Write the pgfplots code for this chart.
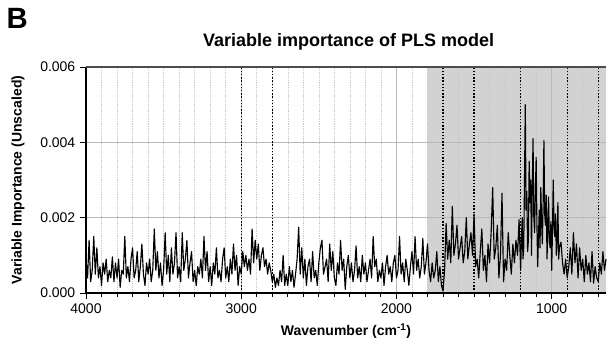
\documentclass[border=0pt]{standalone}
\usepackage{pgfplots}
\pgfplotsset{compat=1.18}
\usepackage{fontspec}
\setmainfont{Liberation Sans}
\pgfplotstableread{
x y
4000 9
3990 4
3980 14
3970 3
3960 6
3950 15
3940 5
3930 12
3920 4
3910 7
3900 2
3890 8
3880 5
3870 9
3860 3
3850 6
3840 4
3830 9.6
3820 3
3810 8
3800 4
3790 9
3780 1.5
3770 6
3760 5
3750 15
3740 4
3730 7
3720 3
3710 9
3700 12
3690 4
3680 6
3670 11
3660 3
3650 7
3640 13
3630 5
3620 2
3610 8
3600 5
3590 9
3580 3
3570 6
3560 17
3550 6
3540 11
3530 4
3520 8
3510 2
3500 6
3490 16
3480 5
3470 10
3460 3
3450 12
3440 5
3430 8
3420 16
3410 4
3400 7
3390 3
3380 16
3370 6
3360 9
3350 14
3340 4
3330 8
3320 11
3310 3
3300 6
3290 2
3280 7
3270 5
3260 9
3250 4
3240 15
3230 6
3220 11
3210 3
3200 7
3190 2
3180 8
3170 5
3160 12
3150 4
3140 6
3130 3
3120 9
3110 12
3100 4
3090 7
3080 3
3070 9
3060 5
3050 13
3040 6
3030 10
3020 2
3010 7
3000 5
2990 11
2980 7
2970 10
2960 6
2950 9
2940 5
2930 17
2920 8
2910 14
2900 9
2890 13
2880 6
2870 10
2860 12
2850 7
2840 9
2830 5
2820 8
2810 6
2800 3
2790 5
2780 1.5
2770 4
2760 2
2750 6
2740 3
2730 10
2720 2
2710 5
2700 2
2690 7
2680 3
2670 6
2660 1.5
2650 5
2640 9
2630 17.5
2620 5
2610 12
2600 4
2590 9
2580 2
2570 7
2560 9
2550 3
2540 11
2530 4
2520 6
2510 2
2500 8
2490 12
2480 14
2470 5
2460 7
2450 9
2440 3
2430 13
2420 6
2410 11
2400 4
2390 2
2380 8
2370 5
2360 14
2350 6
2340 9
2330 1
2320 7
2310 10
2300 4
2290 8
2280 3
2270 6
2260 12.5
2250 4
2240 7
2230 3
2220 10
2210 5
2200 8
2190 3
2180 6
2170 9
2160 4
2150 15
2140 7
2130 9
2120 3
2110 6
2100 4
2090 8
2080 2
2070 7
2060 10
2050 5
2040 7
2030 3
2020 8
2010 10
2000 4
1990 6
1980 15
1970 5
1960 8
1950 3
1940 9
1930 6
1920 2
1910 7
1900 11
1890 5
1880 15
1870 6
1860 9
1850 4
1840 7
1830 14.5
1820 5
1810 8
1800 13
1790 6
1780 3
1770 8
1760 4
1750 6
1740 11
1730 3
1720 7
1710 2
1700 0.5
1690 6
1680 18.5
1670 9
1660 14
1650 8
1640 23
1630 10
1620 13
1610 18
1600 9
1590 12
1580 15
1570 8
1560 11
1550 20
1540 9
1530 13
1520 16
1510 10
1500 21
1490 7
1480 9
1470 4
1460 11
1450 17
1440 6
1430 10
1420 3
1410 13
1400 8
1390 16
1380 28
1370 9
1360 12
1350 18
1340 4
1330 10
1320 26.5
1310 3
1300 9
1290 6
1280 16
1270 10
1260 5
1250 13
1240 8
1230 14
1220 10
1210 19.5
1200 6
1195 14
1190 20
1185 9
1180 12
1175 30
1170 50
1165 22
1160 27
1155 11
1150 14
1145 35
1140 24
1135 30
1130 10
1125 28
1120 41
1115 20
1110 16
1105 27
1100 36
1095 18
1090 7
1085 15
1080 22
1075 12
1070 28
1065 19
1060 13
1055 24
1050 40.5
1045 21
1040 18
1035 26
1030 9
1025 17
1020 25.5
1015 14
1010 12
1005 19
1000 6
995 16
990 30
985 18
980 15
975 21
970 10
965 14
960 24
955 9
950 12
940 13.5
930 8
920 5
910 9
900 4
890 7
880 12
870 5
860 16
850 8
840 13
830 4
820 12
810 6
800 9
790 3
780 10
770 5
760 8
750 3
740 11
730 2.6
720 7
710 4
700 3
690 8
680 5
670 11
660 6
650 9
}\vipdata
\begin{document}
\begin{tikzpicture}
\begin{axis}[
  set layers,
  clip=false,
  scale only axis, width=390pt, height=169.5pt,
  x dir=reverse, xmin=650, xmax=4000, ymin=0, ymax=60,
  xtick={1000,2000,3000,4000},
  minor xtick={700,800,...,3900},
  ytick={0,20,40,60}, yticklabels={0.000,0.002,0.004,0.006},
  tick align=outside, major tick length=4.5pt, minor tick length=3pt,
  tick style={black, line width=0.7pt},
  grid=both,
  major grid style={gray!55, line width=0.7pt},
  minor grid style={gray!45, densely dotted, line width=0.4pt},
  axis x line*=bottom, axis y line*=left,
  axis line style={-, black, line width=0.9pt},
  /pgf/number format/1000 sep={},
  /pgf/number format/assume math mode=true,
  ticklabel style={font=\fontsize{10.5}{12}\selectfont},
  label style={font=\bfseries\fontsize{10.5}{12}\selectfont},
  xlabel style={at={(axis description cs:0.5,-0.168)}, anchor=center},
  ylabel style={at={(axis description cs:-0.131,0.5)}, anchor=center},
  xlabel={Wavenumber (cm\textsuperscript{-1})},
  ylabel={Variable Importance (Unscaled)},
]
\addplot[fill=gray!35, draw=none, on layer=axis background] coordinates {(1800,0) (1800,60) (650,60) (650,0)} \closedcycle;
\addplot[black, line width=0.85pt, line join=round] table[x=x, y=y] {\vipdata};
\addplot[black, dash pattern=on 1pt off 1.4pt, line width=1pt] coordinates {(3000,0) (3000,60)};
\addplot[black, dash pattern=on 1pt off 1.4pt, line width=1pt] coordinates {(2800,0) (2800,60)};
\addplot[black, dash pattern=on 1pt off 1.4pt, line width=1pt] coordinates {(1700,0) (1700,60)};
\addplot[black, dash pattern=on 1pt off 1.4pt, line width=1pt] coordinates {(1500,0) (1500,60)};
\addplot[black, dash pattern=on 1pt off 1.4pt, line width=1pt] coordinates {(1200,0) (1200,60)};
\addplot[black, dash pattern=on 1pt off 1.4pt, line width=1pt] coordinates {(900,0) (900,60)};
\addplot[black, dash pattern=on 1pt off 1.4pt, line width=1pt] coordinates {(700,0) (700,60)};
\addplot[gray!60!black, line width=0.8pt] coordinates {(4000,60) (650,60)};
\end{axis}
\node[font=\bfseries\fontsize{13.5}{16}\selectfont] at (197pt,188pt) {Variable importance of PLS model};
\node[font=\bfseries\fontsize{22}{24}\selectfont] at (-51.5pt,206pt) {B};
\pgfresetboundingbox
\path[use as bounding box] (-64.5pt,-37.5pt) rectangle (390.75pt,219.75pt);
\end{tikzpicture}
\end{document}
